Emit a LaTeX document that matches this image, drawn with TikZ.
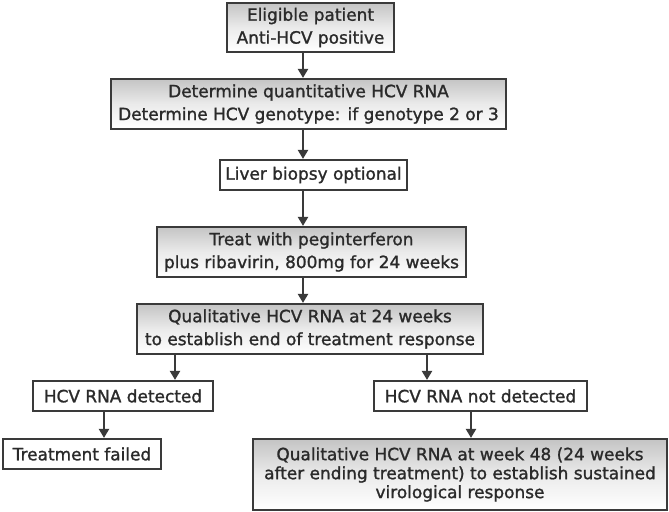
\documentclass[tikz,border=0pt]{standalone}
\usepackage{fontspec}
\setmainfont[FakeBold=1.3]{DejaVu Sans}
\usetikzlibrary{arrows.meta}
\definecolor{edgegray}{HTML}{3A3A3A}
\definecolor{shadegray}{HTML}{C4C4C4}
\definecolor{textgray}{HTML}{2A2A2A}
\begin{document}
\begin{tikzpicture}[x=1bp,y=-1bp,
    box/.style={draw=edgegray,line width=2.2bp,fill=white,align=center,
      text=textgray,inner sep=0pt,
      font=\fontsize{17}{23}\selectfont},
    shadedbox/.style={box,top color=shadegray,bottom color=white,middle color=black!8},
    arr/.style={draw=edgegray,line width=2.4bp,-{Triangle[length=9bp,width=10bp]}}]
      \useasboundingbox (0,0) rectangle (669,512);

      \node (elig)  [shadedbox,minimum width=167bp,minimum height=49bp] at (310.5,27.5)
            {Eligible patient\\Anti-HCV positive};
      \node (quant) [shadedbox,minimum width=395bp,minimum height=50bp] at (308.5,104)
            {Determine quantitative HCV RNA\\Determine HCV genotype: if genotype 2 or 3};
      \node (liver) [box,minimum width=187bp,minimum height=30bp] at (313.5,175)
            {Liver biopsy optional};
      \node (treat) [shadedbox,minimum width=309bp,minimum height=50bp] at (311.5,252)
            {Treat with peginterferon\\plus ribavirin, 800mg for 24 weeks};
      \node (qual)  [shadedbox,minimum width=346bp,minimum height=50bp] at (310,329)
            {Qualitative HCV RNA at 24 weeks\\to establish end of treatment response};
      \node (det)   [box,minimum width=180bp,minimum height=30bp] at (123,396)
            {HCV RNA detected};
      \node (fail)  [box,minimum width=158bp,minimum height=30bp] at (82,454)
            {Treatment failed};
      \node (ndet)  [box,minimum width=213bp,minimum height=30bp] at (480.5,396)
            {HCV RNA not detected};
      \node (svr)   [shadedbox,minimum width=414bp,minimum height=71bp,
                     font=\fontsize{17}{19}\selectfont] at (460,474.5)
            {Qualitative HCV RNA at week 48 (24 weeks\\after ending treatment) to establish sustained\\virological response};

      \coordinate (spine) at (303,0);
      \coordinate (lbr)   at (175,0);
      \coordinate (rbr)   at (427,0);
      \coordinate (lout)  at (104,0);
      \coordinate (rout)  at (471,0);

      \draw [arr] (elig.south -| spine)  -- (quant.north -| spine);
      \draw [arr] (quant.south -| spine) -- (liver.north -| spine);
      \draw [arr] (liver.south -| spine) -- (treat.north -| spine);
      \draw [arr] (treat.south -| spine) -- (qual.north -| spine);
      \draw [arr] (qual.south -| lbr)    -- (det.north -| lbr);
      \draw [arr] (qual.south -| rbr)    -- (ndet.north -| rbr);
      \draw [arr] (det.south -| lout)    -- (fail.north -| lout);
      \draw [arr] (ndet.south -| rout)   -- (svr.north -| rout);
    \end{tikzpicture}
\end{document}
